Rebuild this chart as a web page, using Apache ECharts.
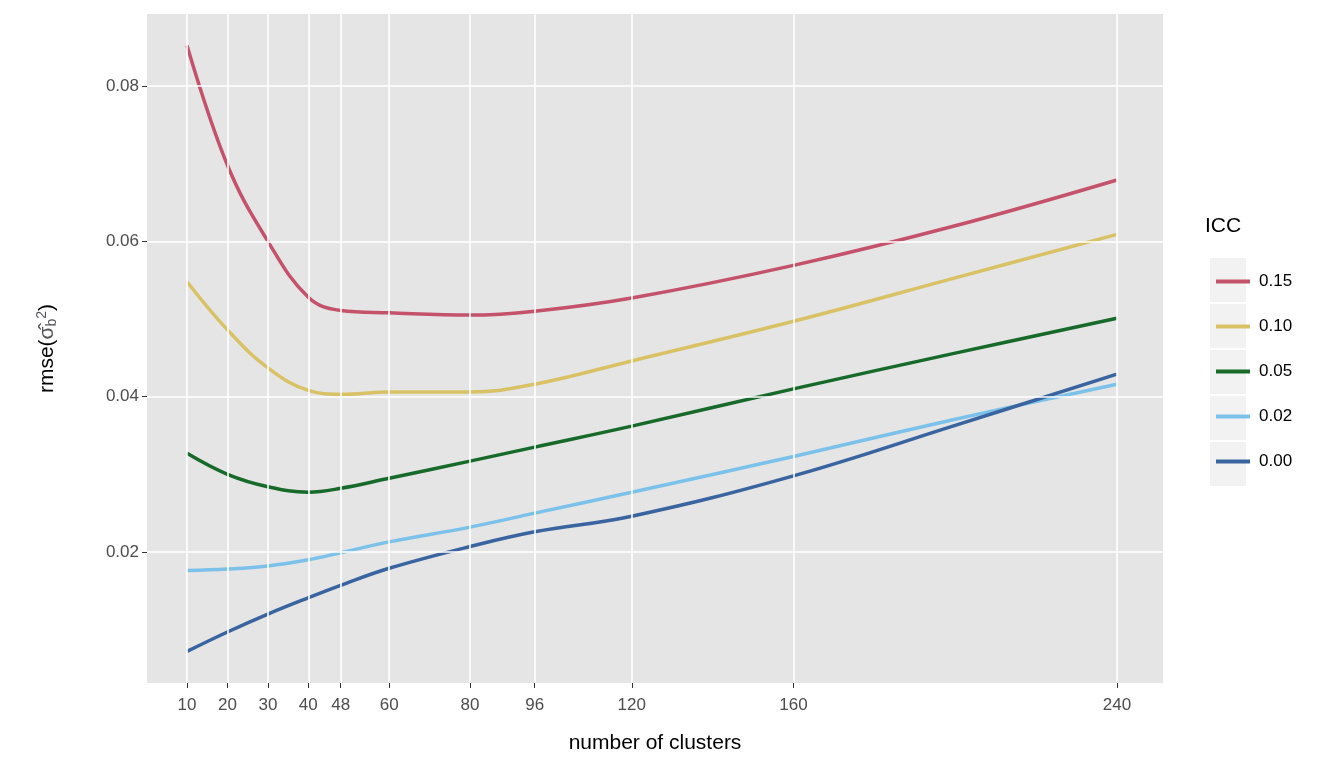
<!DOCTYPE html><html><head><meta charset="utf-8">
<script src="https://cdn.jsdelivr.net/npm/echarts@6/dist/echarts.min.js"></script>
<style>html,body{margin:0;background:#fff}#c{width:1344px;height:768px}</style></head><body><div id="c"></div>
<script>
const xs=[10,20,30,40,48,60,80,96,120,160,200,240];
const xTicks=[10,20,30,40,48,60,80,96,120,160,240];
const yTicks=[0.02,0.04,0.06,0.08];
const names=['0.15','0.10','0.05','0.02','0.00'];
const colors=['#C4526A','#D9C266','#176A2A','#7BC1EA','#3A64A0'];
const s015=[0.0852,0.0698,0.0600,0.0528,0.0511,0.0508,0.0505,0.0510,0.0527,0.0569,0.0620,0.0679];
const s010=[0.0548,0.0486,0.0437,0.0408,0.0403,0.0406,0.0406,0.0416,0.0446,0.0497,0.0553,0.0609];
const s005=[0.0327,0.0300,0.0284,0.0277,0.0282,0.0295,0.0317,0.0335,0.0362,0.0410,0.0456,0.0501];
const s002=[0.0176,0.0178,0.0182,0.0190,0.0199,0.0213,0.0232,0.0250,0.0277,0.0323,0.0371,0.0416];
const s000=[0.0072,0.0097,0.0120,0.0141,0.0157,0.0179,0.0207,0.0226,0.0246,0.0298,0.0363,0.0429];
const vals=[s015,s010,s005,s002,s000];
const series=names.map((n,i)=>({name:n,type:'line',smooth:0.4,symbol:'none',z:3,
  lineStyle:{color:colors[i],width:3.5},itemStyle:{color:colors[i]},
  data:xs.map((x,j)=>[x,vals[i][j]])}));
series.push({type:'line',data:[],silent:true,z:1,markLine:{silent:true,symbol:'none',label:{show:false},
  lineStyle:{color:'#fff',width:1.6,type:'solid'},
  data:[...xTicks.map(x=>({xAxis:x})),...yTicks.map(y=>({yAxis:y}))]}});
const ch=echarts.init(document.getElementById('c'));
ch.setOption({animation:false,
 grid:{left:147,right:181,top:14,bottom:85,show:true,backgroundColor:'#E5E5E5',borderWidth:0},
 xAxis:{type:'value',min:0.1,max:251.4,name:'number of clusters',nameLocation:'middle',nameGap:50,
  nameTextStyle:{fontSize:21,color:'#000',fontFamily:'Liberation Sans'},
  axisLine:{show:false},splitLine:{show:false},
  axisTick:{show:true,customValues:xTicks,length:5,lineStyle:{color:'#333'}},
  axisLabel:{customValues:xTicks,fontSize:17,color:'#4d4d4d',margin:14,fontFamily:'Liberation Sans'}},
 yAxis:{type:'value',min:0.00313,max:0.08927,name:'{a|rmse(}{b|σ̂}{s|b}{t|2}{a|)}',nameLocation:'middle',nameGap:88,nameRotate:90,
  nameTextStyle:{rich:{a:{fontSize:21,fontFamily:'Liberation Sans',color:'#000'},b:{fontSize:21,fontFamily:'Liberation Sans'},s:{fontSize:14,verticalAlign:'bottom',padding:[8,0,0,0]},t:{fontSize:14,padding:[0,0,10,0]}}},
  axisLine:{show:false},splitLine:{show:false},
  axisTick:{show:true,customValues:yTicks,length:5,lineStyle:{color:'#333'}},
  axisLabel:{customValues:yTicks,fontSize:17,color:'#4d4d4d',formatter:v=>v.toFixed(2),fontFamily:'Liberation Sans'}},
 legend:{orient:'vertical',left:1211,top:268,itemGap:28,itemWidth:34,itemHeight:4,icon:'rect',
  textStyle:{fontSize:17,color:'#000',fontFamily:'Liberation Sans',padding:[0,0,0,4]},data:names},
 graphic:[{type:'text',left:1205,top:216,style:{text:'ICC',fontSize:21,fill:'#000',fontFamily:'Liberation Sans'}},
  ...names.map((n,i)=>({type:'rect',left:1210,top:258+i*46,z:-1,shape:{width:36,height:44},style:{fill:'#F2F2F2'}}))],
 series});
</script></body></html>
